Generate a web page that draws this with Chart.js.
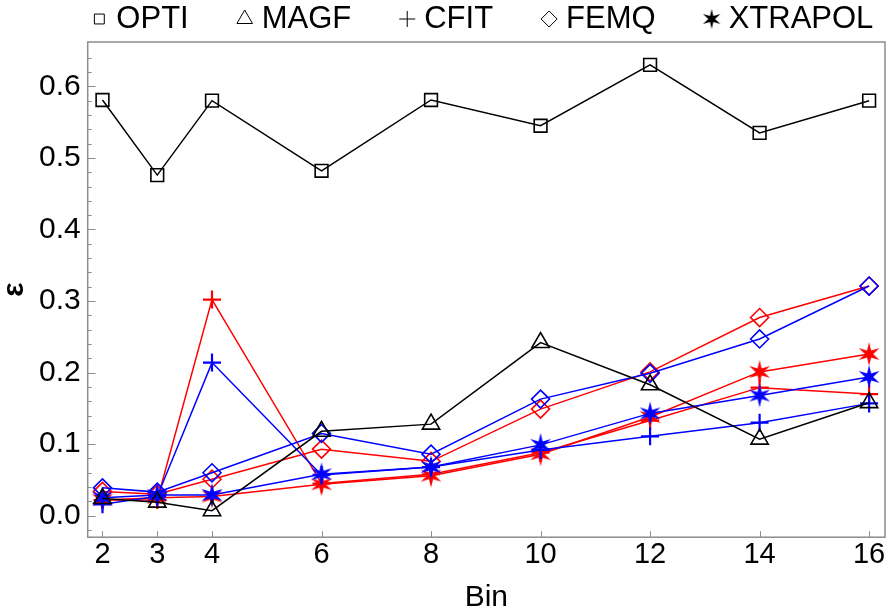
<!DOCTYPE html>
<html>
<head>
<meta charset="utf-8">
<script src="https://cdn.jsdelivr.net/npm/chart.js@4/dist/chart.umd.min.js"></script>
<style>
  html, body { margin: 0; padding: 0; background: #fff; }
  #wrap { width: 889px; height: 614px; }
</style>
</head>
<body>
<div id="wrap"><canvas id="epsChart"></canvas></div>
<script>
// bins on the x axis
var bins = [2, 3, 4, 6, 8, 10, 12, 14, 16];
var yTicks = [0, 0.1, 0.2, 0.3, 0.4, 0.5, 0.6];
var legendNames = ["OPTI", "MAGF", "CFIT", "FEMQ", "XTRAPOL"];

// epsilon per method (red / blue variants for the last three)
var opti = [0.581, 0.476, 0.580, 0.482, 0.581, 0.545, 0.630, 0.535, 0.580];
var magf = [0.024, 0.019, 0.007, 0.118, 0.128, 0.242, 0.183, 0.107, 0.158];
var cfitRed = [0.022, 0.022, 0.302, 0.045, 0.058, 0.088, 0.133, 0.179, 0.170];
var cfitBlue = [0.016, 0.027, 0.214, 0.057, 0.068, 0.092, 0.111, 0.130, 0.157];
var femqRed = [0.034, 0.030, 0.051, 0.093, 0.076, 0.149, 0.201, 0.277, 0.321];
var femqBlue = [0.039, 0.033, 0.060, 0.115, 0.086, 0.163, 0.199, 0.247, 0.321];
var xtraRed = [0.022, 0.025, 0.027, 0.044, 0.056, 0.086, 0.138, 0.201, 0.226];
var xtraBlue = [0.025, 0.029, 0.029, 0.058, 0.068, 0.099, 0.143, 0.168, 0.194];

var RED = "#ff0000";
var BLUE = "#0000ff";
var FONT = "'Liberation Sans', Arial, sans-serif";

// six pointed star marker
function makeStar(color, R) {
  var c = document.createElement("canvas");
  c.width = c.height = 2 * R + 2;
  var g = c.getContext("2d");
  var cx = R + 1, cy = R + 1, r = R * 0.34;
  g.beginPath();
  for (var i = 0; i < 12; i++) {
    var a = -Math.PI / 2 + i * Math.PI / 6;
    var rr = i % 2 === 0 ? R : r;
    var px = cx + rr * Math.cos(a), py = cy + rr * Math.sin(a);
    if (i === 0) g.moveTo(px, py); else g.lineTo(px, py);
  }
  g.closePath();
  g.fillStyle = color;
  g.fill();
  return c;
}

function pts(arr) {
  return arr.map(function (v, i) { return { x: bins[i], y: v }; });
}

function series(label, data, color, style, radius, extra) {
  var ds = {
    label: label,
    data: pts(data),
    borderColor: color,
    backgroundColor: "rgba(0,0,0,0)",
    borderWidth: 1.5,
    pointStyle: style,
    pointRadius: radius,
    pointBorderColor: color,
    pointBackgroundColor: "rgba(0,0,0,0)",
    pointBorderWidth: 1.6,
    tension: 0
  };
  for (var k in extra) ds[k] = extra[k];
  return ds;
}

var redStar = makeStar(RED, 12);
var blueStar = makeStar(BLUE, 12);
var blackStar = makeStar("#000", 10);
var legendMarks = [
  { pointStyle: "rect", radius: 7 },
  { pointStyle: "triangle", radius: 9 },
  { pointStyle: "cross", radius: 8 },
  { pointStyle: "rectRot", radius: 8 },
  { pointStyle: blackStar, radius: 10 }
];

// frame, inward ticks and the legend row
var frame = {
  id: "frame",
  afterDraw: function (chart) {
    var ctx = chart.ctx, a = chart.chartArea;
    var xs = chart.scales.x, ys = chart.scales.y;
    ctx.save();
    ctx.strokeStyle = "#8c8c8c";
    ctx.lineWidth = 1.5;
    ctx.strokeRect(a.left, a.top, a.right - a.left, a.bottom - a.top);
    ctx.lineWidth = 1;
    ctx.beginPath();
    for (var v = -0.02; v <= 0.66; v += 0.02) {
      var y = Math.round(ys.getPixelForValue(v)) + 0.5;
      var major = Math.abs(v * 10 - Math.round(v * 10)) < 1e-6;
      ctx.moveTo(a.left, y);
      ctx.lineTo(a.left + (major ? 8 : 4), y);
    }
    bins.forEach(function (b) {
      var x = Math.round(xs.getPixelForValue(b)) + 0.5;
      ctx.moveTo(x, a.bottom);
      ctx.lineTo(x, a.bottom - 6);
    });
    ctx.stroke();

    ctx.font = "31px " + FONT;
    ctx.fillStyle = "#000";
    ctx.textBaseline = "middle";
    var toText = 17, gap = 56;
    var widths = legendNames.map(function (t) { return ctx.measureText(t).width; });
    var total = widths.reduce(function (s, w) { return s + w + toText; }, 0) + gap * (legendNames.length - 1);
    var x0 = (a.left + a.right) / 2 - total / 2;
    var ly = 19;
    legendNames.forEach(function (t, i) {
      ctx.strokeStyle = "#000";
      ctx.fillStyle = "rgba(0,0,0,0)";
      Chart.helpers.drawPoint(ctx, {
        pointStyle: legendMarks[i].pointStyle,
        radius: legendMarks[i].radius,
        rotation: 0,
        borderWidth: 1.4
      }, x0, ly);
      ctx.fillStyle = "#000";
      ctx.fillText(t, x0 + toText, ly);
      x0 += toText + widths[i] + gap;
    });
    ctx.restore();
  }
};

// Chart.js paints the first dataset on top, so blue comes before red here
var ctx = document.getElementById("epsChart").getContext("2d");
var chart = new Chart(ctx, {
  type: "line",
  plugins: [frame],
  data: {
    datasets: [
      series("OPTI", opti, "#000", "rect", 9),
      series("MAGF", magf, "#000", "triangle", 10),
      series("CFIT blue", cfitBlue, BLUE, "cross", 9, { pointBorderWidth: 2.2 }),
      series("FEMQ blue", femqBlue, BLUE, "rectRot", 9),
      series("XTRAPOL blue", xtraBlue, BLUE, blueStar, 12),
      series("CFIT red", cfitRed, RED, "cross", 9, { pointBorderWidth: 2.2 }),
      series("FEMQ red", femqRed, RED, "rectRot", 9),
      series("XTRAPOL red", xtraRed, RED, redStar, 12)
    ]
  },
  options: {
    responsive: true,
    maintainAspectRatio: false,
    animation: false,
    layout: { autoPadding: false, padding: { left: 0, right: 4, top: 42, bottom: 0 } },
    plugins: {
      tooltip: { enabled: false },
      legend: { display: false }
    },
    scales: {
      x: {
        type: "linear",
        min: 1.73,
        max: 16.29,
        afterBuildTicks: function (s) {
          s.ticks = bins.map(function (v) { return { value: v }; });
        },
        afterFit: function (s) {
          s.paddingLeft = 0;
          s.paddingRight = 0;
        },
        grid: { display: false, drawTicks: false },
        border: { display: false },
        ticks: { color: "#000", font: { family: FONT, size: 29, lineHeight: 1.2 }, padding: 0, maxRotation: 0 },
        title: { display: true, text: "Bin", color: "#000", font: { family: FONT, size: 30, lineHeight: 1.1 }, padding: { top: 9, bottom: 0 } }
      },
      y: {
        min: -0.03,
        max: 0.662,
        afterBuildTicks: function (s) {
          s.ticks = yTicks.map(function (v) { return { value: v }; });
        },
        grid: { display: false, drawTicks: false },
        border: { display: false },
        ticks: {
          color: "#000",
          font: { family: FONT, size: 30 },
          padding: 7,
          callback: function (v) { return v.toFixed(1); }
        },
        title: { display: true, text: "ε", color: "#000", font: { family: FONT, size: 30, weight: "bold", lineHeight: 1.0 }, padding: { top: 0, bottom: 2 } }
      }
    }
  }
});
</script>
</body>
</html>
